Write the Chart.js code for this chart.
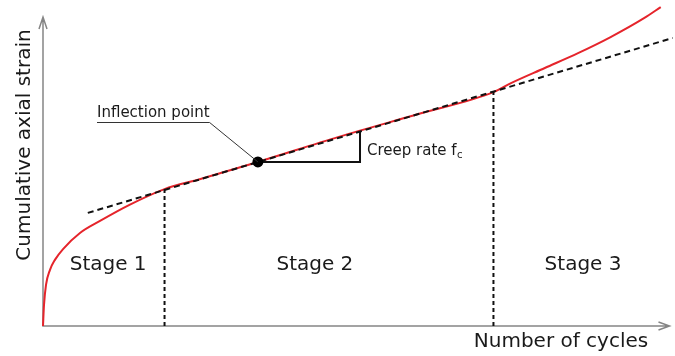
<!DOCTYPE html>
<html>
<head>
<meta charset="utf-8">
<script src="https://cdn.jsdelivr.net/npm/chart.js@4.4.1/dist/chart.umd.min.js"></script>
<style>
  html, body { margin:0; padding:0; background:#fff; }
  #box { width:675px; height:356px; }
</style>
</head>
<body>
<div id="box"><canvas id="graf"></canvas></div>
<script>
// cycles and strain both in arbitrary units (0-100)
const ciclos = [0, 0.16, 0.48, 1.1, 1.9, 3.2, 5.9, 9.1, 13.8, 19.4, 25.0, 34.3, 47.2, 59.9, 71.9, 74.7, 80.1, 85.4, 90.6, 96.0, 98.6];
const deformacao = [0, 6.8, 13.3, 18.1, 21.4, 24.9, 30.1, 34.0, 39.2, 44.3, 47.5, 53.1, 61.2, 68.6, 75.7, 78.6, 83.5, 88.3, 93.5, 99.7, 103.2];

// stage-2 tangent line (creep rate)
const ciclosTangente = [7.15, 100.5];
const deformTangente = [36.6, 93.2];

// stage boundaries
const limitesCiclos = [19.4, 71.9];
const limitesDeform = [44.3, 75.7];

// inflection point and creep triangle
const inflexao = [34.3, 53.1];
const trianguloCiclos = [34.3, 50.6, 50.6];
const trianguloDeform = [53.1, 53.1, 62.9];

const estagios = ["Stage 1", "Stage 2", "Stage 3"];

document.addEventListener("DOMContentLoaded", () => {

  const fonte = "DejaVu Sans";
  const pts = (xs, ys) => xs.map((v, i) => ({ x: v, y: ys[i] }));

  const anotacoes = {
    id: "anotacoes",
    beforeDatasetsDraw(chart) {
      const { ctx, chartArea: a } = chart;
      ctx.save();
      ctx.strokeStyle = "#858585";
      ctx.lineWidth = 1.5;
      ctx.beginPath();
      ctx.moveTo(a.left, a.top);
      ctx.lineTo(a.left, a.bottom);
      ctx.lineTo(a.right, a.bottom);
      // arrow heads
      ctx.moveTo(a.left - 4, a.top + 12);
      ctx.lineTo(a.left, a.top);
      ctx.lineTo(a.left + 4, a.top + 12);
      ctx.moveTo(a.right - 11, a.bottom - 4);
      ctx.lineTo(a.right, a.bottom);
      ctx.lineTo(a.right - 11, a.bottom + 4);
      ctx.stroke();
      ctx.restore();
    },
    afterDatasetsDraw(chart) {
      const { ctx, chartArea: a, scales: { x, y } } = chart;
      ctx.save();
      ctx.fillStyle = "#1a1a1a";
      ctx.textBaseline = "middle";

      // axis titles
      ctx.font = `20px "${fonte}"`;
      ctx.textAlign = "center";
      ctx.fillText("Number of cycles", 561, a.bottom + 16);
      ctx.save();
      ctx.translate(25, 145);
      ctx.rotate(-Math.PI / 2);
      ctx.fillText("Cumulative axial strain", 0, 0);
      ctx.restore();

      // stage names
      const posEstagio = [10.4, 43.4, 86.2];
      estagios.forEach((s, i) => ctx.fillText(s, x.getPixelForValue(posEstagio[i]), y.getPixelForValue(19.7)));

      // inflection point label with underline and leader
      ctx.font = `15px "${fonte}"`;
      ctx.textAlign = "left";
      ctx.fillText("Inflection point", 97, 113);
      const w = ctx.measureText("Inflection point").width;
      ctx.strokeStyle = "#333";
      ctx.lineWidth = 1;
      ctx.beginPath();
      ctx.moveTo(97, 122.5);
      ctx.lineTo(97 + w, 122.5);
      ctx.lineTo(x.getPixelForValue(inflexao[0]), y.getPixelForValue(inflexao[1]));
      ctx.stroke();

      // creep rate label
      const cx = x.getPixelForValue(trianguloCiclos[1]) + 7;
      const cy = y.getPixelForValue(56.5);
      ctx.fillText("Creep rate f", cx, cy);
      const wc = ctx.measureText("Creep rate f").width;
      ctx.font = `10px "${fonte}"`;
      ctx.fillText("c", cx + wc + 0.5, cy + 4);
      ctx.restore();
    }
  };

  new Chart(document.getElementById("graf"), {
    type: "line",
    data: {
      datasets: [
        {
          data: [{ x: inflexao[0], y: inflexao[1] }],
          showLine: false,
          pointRadius: 5.5,
          pointBackgroundColor: "#000",
          pointBorderWidth: 0,
          order: 0
        },
        {
          data: pts(ciclosTangente, deformTangente),
          borderColor: "#111",
          borderWidth: 2,
          borderDash: [6, 4],
          pointRadius: 0,
          order: 1
        },
        {
          data: pts(trianguloCiclos, trianguloDeform),
          borderColor: "#111",
          borderWidth: 2,
          pointRadius: 0,
          order: 1
        },
        ...limitesCiclos.map((c, i) => ({
          data: [{ x: c, y: 0 }, { x: c, y: limitesDeform[i] }],
          borderColor: "#111",
          borderWidth: 2,
          borderDash: [4, 3],
          pointRadius: 0,
          order: 1
        })),
        {
          data: pts(ciclos, deformacao),
          borderColor: "#e5242b",
          borderWidth: 2,
          pointRadius: 0,
          cubicInterpolationMode: "monotone",
          order: 2
        }
      ]
    },
    options: {
      responsive: true,
      maintainAspectRatio: false,
      animation: false,
      events: [],
      clip: false,
      layout: { padding: { left: 43, right: 3, top: 17, bottom: 30 } },
      plugins: { legend: { display: false }, tooltip: { enabled: false } },
      scales: {
        x: { type: "linear", min: 0, max: 100, display: false },
        y: { type: "linear", min: 0, max: 100, display: false }
      }
    },
    plugins: [anotacoes]
  });

});
</script>
</body>
</html>
